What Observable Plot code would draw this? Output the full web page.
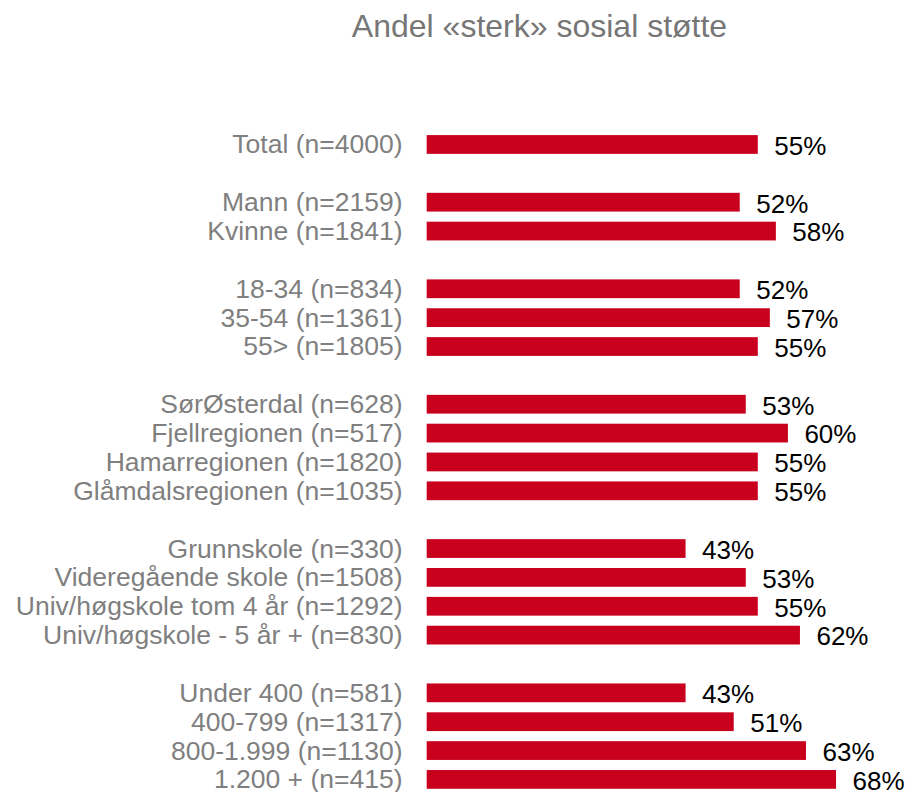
<!DOCTYPE html>
<html>
<head>
<meta charset="utf-8">
<script src="https://cdn.jsdelivr.net/npm/d3@7"></script>
<script src="https://cdn.jsdelivr.net/npm/@observablehq/plot@0.6"></script>
<style>
  html, body { margin: 0; padding: 0; background: #fff; overflow: hidden; }
  #title {
    height: 52px; line-height: 52px; font-size: 32px;
    font-family: "Liberation Sans", Arial, sans-serif; color: #767676;
    text-align: center; padding-left: 167px; box-sizing: border-box; width: 912px;
    white-space: nowrap;
  }
  svg { overflow: visible; display: block; }
</style>
</head>
<body>
<div id="title">Andel «sterk» sosial støtte</div>
<div id="chart"></div>
<script>
const categories = [
  "Total (n=4000)",
  "Mann (n=2159)", "Kvinne (n=1841)",
  "18-34 (n=834)", "35-54 (n=1361)", "55> (n=1805)",
  "SørØsterdal (n=628)", "Fjellregionen (n=517)", "Hamarregionen (n=1820)", "Glåmdalsregionen (n=1035)",
  "Grunnskole (n=330)", "Videregående skole (n=1508)", "Univ/høgskole tom 4 år (n=1292)", "Univ/høgskole - 5 år + (n=830)",
  "Under 400 (n=581)", "400-799 (n=1317)", "800-1.999 (n=1130)", "1.200 + (n=415)"
];
const values = [55, 52, 58, 52, 57, 55, 53, 60, 55, 55, 43, 53, 55, 62, 43, 51, 63, 68];
const groupSizes = [1, 2, 3, 4, 4, 4];

// y domain with blank spacer rows between groups
const domain = [];
let k = 0;
groupSizes.forEach((n, g) => {
  for (let i = 0; i < n; i++) domain.push(categories[k++]);
  if (g < groupSizes.length - 1) domain.push("gap" + g);
});
const data = categories.map((c, i) => ({category: c, value: values[i]}));

const chart = Plot.plot({
  width: 912,
  height: 740,
  marginLeft: 427,
  marginRight: 0,
  marginTop: 0,
  marginBottom: 0,
  style: {fontFamily: "Liberation Sans, Arial, sans-serif", fontSize: "26px", color: "#7f7f7f", background: "white"},
  x: {domain: [0, 100], range: [426.7, 426.7 + 602], axis: null},
  y: {domain, range: [73, 746.9], padding: 0.35, round: false, label: null},
  marks: [
    Plot.axisY({tickSize: 0, tickPadding: 25, fontSize: 26.5, tickFormat: d => d.startsWith("gap") ? "" : d, fill: "#7f7f7f"}),
    Plot.barX(data, {x: "value", y: "category", fill: "#c8001e"}),
    Plot.text(data, {x: "value", y: "category", text: d => d.value + "%", textAnchor: "start", dx: 16, dy: 1.5, fill: "black", fontSize: 26})
  ]
});
document.getElementById("chart").append(chart);
</script>
</body>
</html>
